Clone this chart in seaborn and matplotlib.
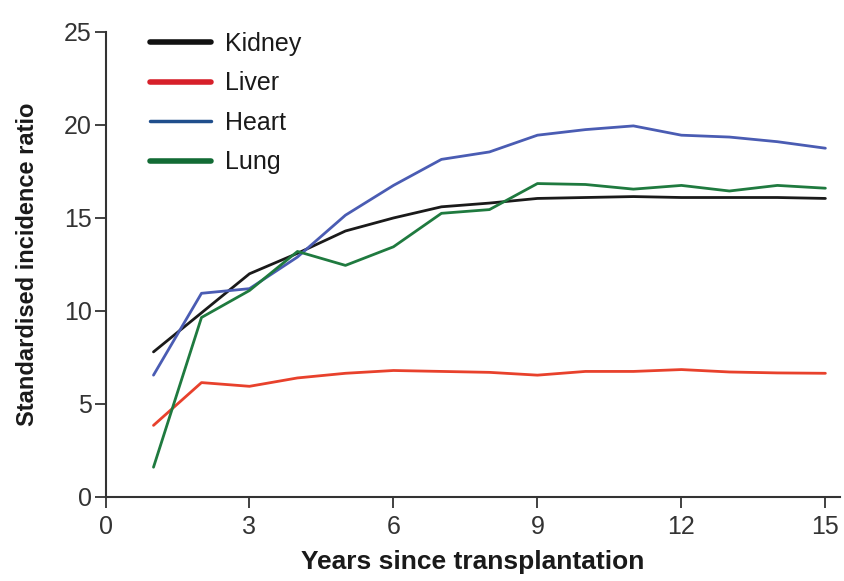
import matplotlib
matplotlib.use("Agg")
import matplotlib.pyplot as plt
from matplotlib import font_manager
from matplotlib.lines import Line2D
import seaborn as sns
import pandas as pd

years = [1, 2, 3, 4, 5, 6, 7, 8, 9, 10, 11, 12, 13, 14, 15]
kidney = [7.8, 9.9, 12.0, 13.1, 14.3, 15.0, 15.6, 15.8, 16.05, 16.1, 16.15, 16.1, 16.1, 16.1, 16.05]
liver = [3.85, 6.15, 5.95, 6.4, 6.65, 6.8, 6.75, 6.7, 6.55, 6.75, 6.75, 6.85, 6.72, 6.67, 6.65]
heart = [6.55, 10.95, 11.2, 12.9, 15.15, 16.75, 18.15, 18.55, 19.45, 19.75, 19.95, 19.45, 19.35, 19.1, 18.75]
lung = [1.6, 9.65, 11.1, 13.2, 12.45, 13.45, 15.25, 15.45, 16.85, 16.8, 16.55, 16.75, 16.45, 16.75, 16.6]
series_names = ["Kidney", "Liver", "Heart", "Lung"]
colors = ["#1a1a1a", "#e8412c", "#4a5cb3", "#1f7a3f"]
legend_colors = ["#111111", "#d7202a", "#1f4e8c", "#126b35"]
x_ticks = [0, 3, 6, 9, 12, 15]
y_ticks = [0, 5, 10, 15, 20, 25]

sns.set_theme(style="white")
avail = {f.name for f in font_manager.fontManager.ttflist}
fam = "Liberation Sans Narrow" if "Liberation Sans Narrow" in avail else "Liberation Sans"
plt.rcParams["font.family"] = [fam, "DejaVu Sans"]

rows = []
for name, vals in zip(series_names, [kidney, liver, heart, lung]):
    for x, v in zip(years, vals):
        rows.append({"Years": x, "SIR": v, "Organ": name})
df = pd.DataFrame(rows)

fig = plt.figure(figsize=(8.44, 5.81), dpi=100)
ax = fig.add_axes([0.125, 0.1446, 0.87, 0.8004])
sns.lineplot(data=df, x="Years", y="SIR", hue="Organ", hue_order=series_names,
             palette=dict(zip(series_names, colors)), linewidth=2.0, ax=ax,
             legend=False, estimator=None)

ax.set_xlim(0, 15.3)
ax.set_ylim(0, 25)
ax.set_xticks(x_ticks)
ax.set_yticks(y_ticks)
ax.set_xticklabels([str(t) for t in x_ticks])
ax.set_yticklabels([str(t) for t in y_ticks])
for s in ["top", "right"]:
    ax.spines[s].set_visible(False)
for s in ["left", "bottom"]:
    ax.spines[s].set_color("#333333")
    ax.spines[s].set_linewidth(1.5)
ax.tick_params(axis="both", which="major", direction="out", length=8, width=1.3,
               color="#333333", labelsize=18, labelcolor="#333333", pad=2,
               left=True, bottom=True)
ax.tick_params(axis="x", pad=5)

ax.set_xlabel("Years since transplantation", fontsize=19, fontweight="bold",
              color="#1a1a1a", labelpad=8)
ax.set_ylabel("Standardised incidence ratio", fontsize=17, fontweight="bold",
              color="#1a1a1a", labelpad=18)

handles = [Line2D([0], [0], color=c, lw=lw) for c, lw in zip(legend_colors, [4, 4, 2.5, 4])]
leg = ax.legend(handles, series_names, loc="upper left", bbox_to_anchor=(0.06, 1.0),
                frameon=False, fontsize=18, handlelength=2.45, handletextpad=0.55,
                labelspacing=0.62, borderpad=0, borderaxespad=0)
for t in leg.get_texts():
    t.set_color("#1a1a1a")

fig.savefig("out.png", dpi=100)
